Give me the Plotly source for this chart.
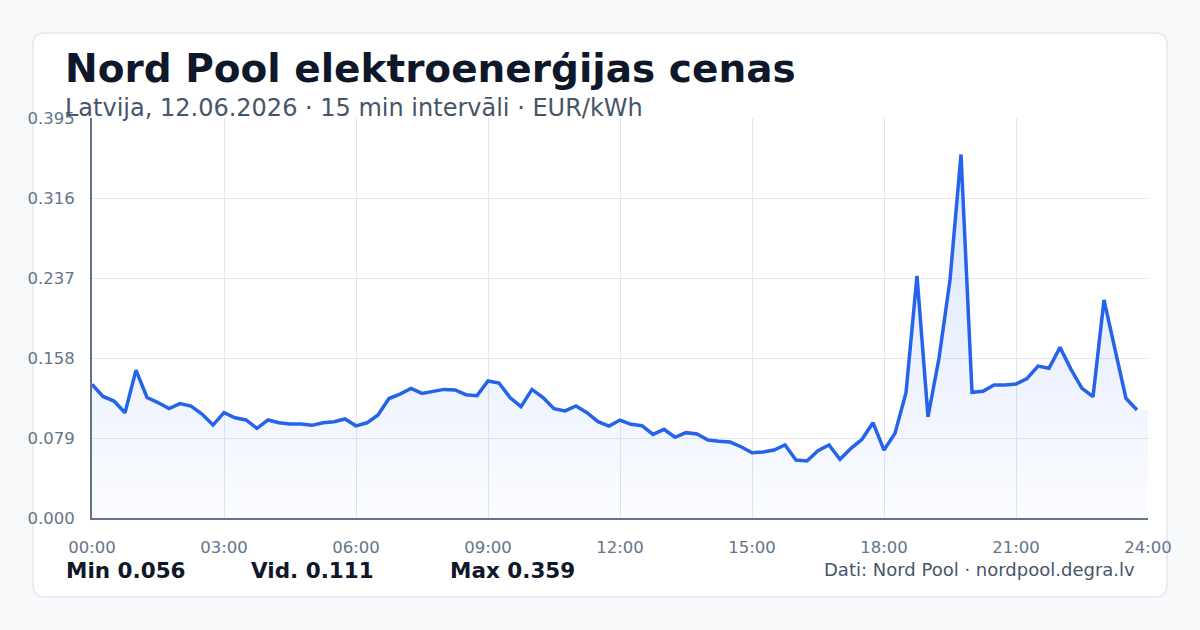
import plotly.graph_objects as go

# ---- data (EUR/kWh, 15-minute intervals, 00:00 .. 23:45) ----
prices = [
    0.132, 0.120, 0.1155, 0.104, 0.146, 0.119, 0.114, 0.108,
    0.113, 0.1105, 0.1027, 0.0918, 0.104, 0.099, 0.0968, 0.0885,
    0.0968, 0.094, 0.0928, 0.0928, 0.0915, 0.094, 0.0951, 0.0978,
    0.091, 0.094, 0.1017, 0.118, 0.1224, 0.128, 0.123, 0.1247,
    0.127, 0.1264, 0.1218, 0.1208, 0.1353, 0.1333, 0.119, 0.110,
    0.127, 0.119, 0.108, 0.1057, 0.1106, 0.104, 0.0951, 0.0908,
    0.0967, 0.0925, 0.0912, 0.0826, 0.0876, 0.0797, 0.0843, 0.0829,
    0.077, 0.0757, 0.075, 0.0704, 0.0645, 0.0652, 0.0671, 0.0721,
    0.0573, 0.0563, 0.0665, 0.0721, 0.058, 0.0688, 0.0777, 0.0941,
    0.0671, 0.0836, 0.1238, 0.239, 0.100, 0.1577, 0.235, 0.359,
    0.1241, 0.1251, 0.1313, 0.1313, 0.1323, 0.1376, 0.150, 0.1478,
    0.1685, 0.1468, 0.128, 0.1198, 0.2153, 0.1666, 0.1182, 0.1066,
]
hours = [i / 4 for i in range(len(prices))]  # time of each interval in hours

x_tickvals = [0, 3, 6, 9, 12, 15, 18, 21, 24]
x_ticktext = ["00:00", "03:00", "06:00", "09:00", "12:00", "15:00", "18:00", "21:00", "24:00"]
y_tickvals = [0.0, 0.079, 0.158, 0.237, 0.316, 0.395]
y_ticktext = ["0.000", "0.079", "0.158", "0.237", "0.316", "0.395"]

title = "Nord Pool elektroenerģijas cenas"
subtitle = "Latvija, 12.06.2026 · 15 min intervāli · EUR/kWh"
stats = [("Min 0.056", 65), ("Vid. 0.111", 250), ("Max 0.359", 449)]
source = "Dati: Nord Pool · nordpool.degra.lv"

# ---- layout geometry ----
W, H = 1200, 630
ML, MR, MT, MB = 92, 52, 118, 112
PW, PH = W - ML - MR, H - MT - MB


def px(xp):
    return (xp - ML) / PW


def py(yp):
    return (H - MB - yp) / PH


FONT = "DejaVu Sans"
BLUE = "#2563eb"

fig = go.Figure()

# area fill (extends to 24:00 at the last value)
fig.add_trace(go.Scatter(
    x=hours + [24], y=prices + [prices[-1]],
    mode="lines", line=dict(width=0, color="rgba(0,0,0,0)"),
    fill="tozeroy",
    fillgradient=dict(type="vertical",
                      colorscale=[[0, "rgba(37,99,235,0.02)"], [1, "rgba(37,99,235,0.17)"]],
                      start=0, stop=0.36),
    hoverinfo="skip", showlegend=False,
))
fig.add_trace(go.Scatter(
    x=hours, y=prices, mode="lines",
    line=dict(color=BLUE, width=3.5, shape="linear"),
    showlegend=False,
))

# card background (rounded rectangle)
x0, x1, y0, y1 = px(33), px(1167), py(597), py(33)
rx, ry = 12 / PW, 12 / PH
path = (f"M {x0+rx} {y1} L {x1-rx} {y1} Q {x1} {y1} {x1} {y1-ry} "
        f"L {x1} {y0+ry} Q {x1} {y0} {x1-rx} {y0} "
        f"L {x0+rx} {y0} Q {x0} {y0} {x0} {y0+ry} "
        f"L {x0} {y1-ry} Q {x0} {y1} {x0+rx} {y1} Z")
fig.add_shape(type="path", path=path, xref="paper", yref="paper",
              fillcolor="white", line=dict(color="#e2e8f0", width=1.5), layer="below")

annotations = [
    dict(text=f"<b>{title}</b>", x=px(63), y=py(69), xanchor="left", yanchor="middle",
         font=dict(family=FONT, size=39, color="#0f172a")),
    dict(text=subtitle, x=px(63), y=py(108), xanchor="left", yanchor="middle",
         font=dict(family=FONT, size=24, color="#475569")),
    dict(text=source, x=px(1137), y=py(569), xanchor="right", yanchor="middle",
         font=dict(family=FONT, size=18, color="#475569")),
]
for label, xpos in stats:
    annotations.append(dict(text=f"<b>{label}</b>", x=px(xpos - 1), y=py(570),
                            xanchor="left", yanchor="middle",
                            font=dict(family=FONT, size=21.5, color="#0f172a")))
for a in annotations:
    a.update(xref="paper", yref="paper", showarrow=False)

fig.update_layout(
    width=W, height=H,
    margin=dict(l=ML, r=MR, t=MT, b=MB, pad=0),
    paper_bgcolor="#f8fafc",
    plot_bgcolor="rgba(0,0,0,0)",
    annotations=annotations,
    showlegend=False,
    font=dict(family=FONT),
    xaxis=dict(range=[0, 24], tickvals=x_tickvals, ticktext=x_ticktext,
               showgrid=True, gridcolor="#e2e8f0", gridwidth=1,
               showline=True, linecolor="#64748b", linewidth=2,
               zeroline=False, ticks="", ticklabelstandoff=13,
               tickfont=dict(family=FONT, size=16.5, color="#64748b")),
    yaxis=dict(range=[0, 0.39501], tickvals=y_tickvals, ticktext=y_ticktext,
               showgrid=True, gridcolor="#e2e8f0", gridwidth=1,
               showline=True, linecolor="#64748b", linewidth=2,
               zeroline=False, ticks="", ticklabelstandoff=12,
               tickfont=dict(family=FONT, size=16.5, color="#64748b")),
)

fig.write_html("out.html")
